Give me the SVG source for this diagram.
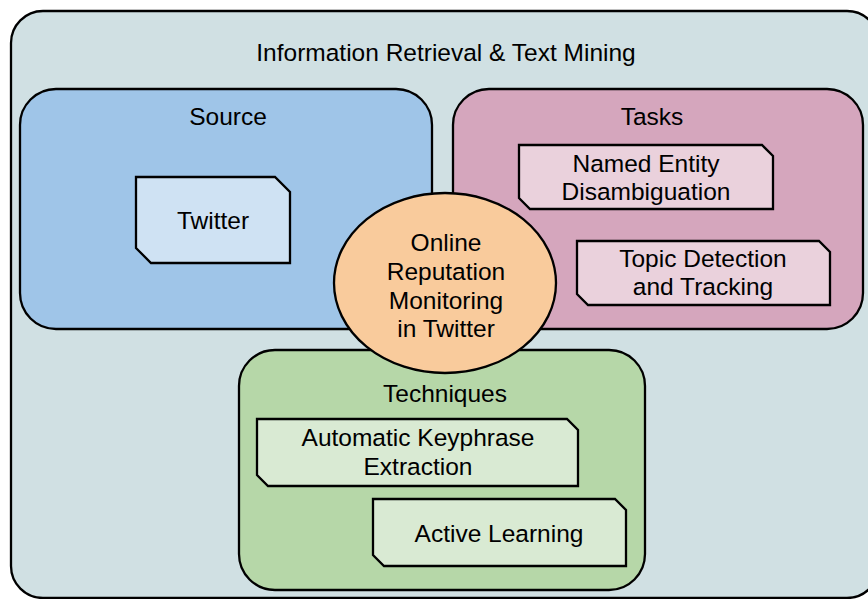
<svg xmlns="http://www.w3.org/2000/svg" width="868" height="599" viewBox="0 0 868 599">
  <style>
    .box { stroke: #000; stroke-width: 2.3; }
    .node { stroke: #000; stroke-width: 2.3; stroke-linejoin: miter; }
    text { font-family: "Liberation Sans", Arial, sans-serif; font-size: 24.5px; fill: #000; text-anchor: middle; }
    .outer { fill: #d0e0e3; }
    .source { fill: #9fc5e8; }
    .tasks { fill: #d5a6bd; }
    .techniques { fill: #b6d7a8; }
    .focus { fill: #f9cb9c; }
    .n-source { fill: #cfe2f3; }
    .n-tasks { fill: #ead1dc; }
    .n-tech { fill: #d9ead3; }
  </style>

  <!-- Outer field -->
  <g id="field">
    <rect class="box outer" x="11" y="11" width="868" height="587" rx="32" ry="32"/>
    <text x="446" y="61">Information Retrieval &amp; Text Mining</text>
  </g>

  <!-- Source area -->
  <g id="source">
    <rect class="box source" x="20" y="89" width="412" height="240" rx="36" ry="36"/>
    <text x="228" y="125">Source</text>
  </g>

  <!-- Tasks area -->
  <g id="tasks">
    <rect class="box tasks" x="453" y="89" width="410" height="240" rx="36" ry="36"/>
    <text x="652" y="125">Tasks</text>
  </g>

  <!-- Techniques area -->
  <g id="techniques">
    <rect class="box techniques" x="239" y="350" width="406" height="240" rx="36" ry="36"/>
    <text x="445" y="402">Techniques</text>
  </g>

  <!-- Snipped-corner items -->
  <g id="twitter">
    <path class="node n-source" d="M136,177 H275 L290,192 V263 H151 L136,248 Z"/>
    <text x="213" y="229">Twitter</text>
  </g>

  <g id="named-entity">
    <path class="node n-tasks" d="M519,145 H762 L773,156 V209 H530 L519,198 Z"/>
    <text x="646" y="172">Named Entity</text>
    <text x="646" y="200">Disambiguation</text>
  </g>

  <g id="topic-detection">
    <path class="node n-tasks" d="M577,241 H819 L830,252 V305 H588 L577,294 Z"/>
    <text x="703" y="267">Topic Detection</text>
    <text x="703" y="295">and Tracking</text>
  </g>

  <g id="keyphrase">
    <path class="node n-tech" d="M257,419 H567 L578,430 V486 H268 L257,475 Z"/>
    <text x="418" y="446">Automatic Keyphrase</text>
    <text x="418" y="475">Extraction</text>
  </g>

  <g id="active-learning">
    <path class="node n-tech" d="M373,499 H615 L626,510 V566 H384 L373,555 Z"/>
    <text x="499" y="542">Active Learning</text>
  </g>

  <!-- Central topic -->
  <g id="orm">
    <ellipse class="box focus" cx="445" cy="283" rx="111" ry="90"/>
    <text x="446" y="251">Online</text>
    <text x="446" y="280">Reputation</text>
    <text x="446" y="309">Monitoring</text>
    <text x="446" y="337">in Twitter</text>
  </g>

  <g id="connectors"/>
</svg>
